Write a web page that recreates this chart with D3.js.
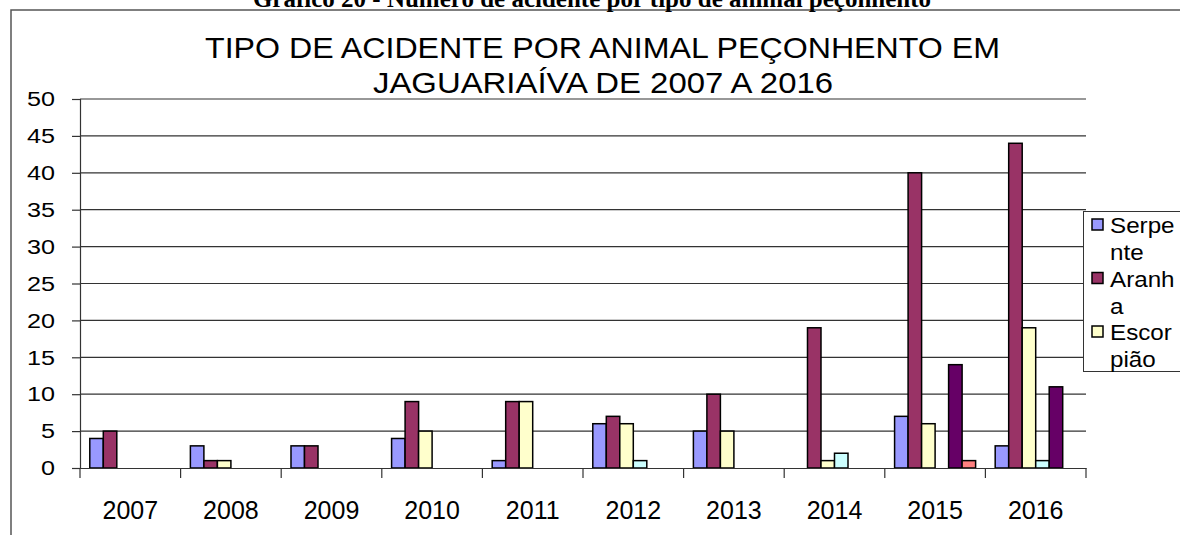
<!DOCTYPE html>
<html><head><meta charset="utf-8">
<script src="https://cdn.jsdelivr.net/npm/d3@7"></script>
<style>body{margin:0;background:#fff}svg{display:block}</style>
</head><body>
<svg id="c" width="1180" height="535"></svg>
<script>
const years = ["2007","2008","2009","2010","2011","2012","2013","2014","2015","2016"];
const seriesNames = ["Serpente","Aranha","Escorpião","Série 4","Série 5","Série 6"];
const serpente  = [4,3,3,4,1,6,5,0,7,3];
const aranha    = [5,1,3,9,9,7,10,19,40,44];
const escorpiao = [0,1,0,5,9,6,5,1,6,19];
const serie4    = [0,0,0,0,0,1,0,2,0,1];
const serie5    = [0,0,0,0,0,0,0,0,14,11];
const serie6    = [0,0,0,0,0,0,0,0,1,0];
const yTicks = [0,5,10,15,20,25,30,35,40,45,50];
const colors = ["#9999FF","#993366","#FFFFCC","#CCFFFF","#660066","#FF8080"];
const legendLines = [["Serpe","nte"],["Aranh","a"],["Escor","pião"]];

const allSeries = [serpente, aranha, escorpiao, serie4, serie5, serie6];
const svg = d3.select("#c");
const pL = 80, pR = 1086, pT = 99, pB = 468;
const tf = "Liberation Sans, Arial, sans-serif";

const x = d3.scaleBand().domain(years).range([pL, pR]).paddingInner(0).paddingOuter(0);
const inner = d3.scaleBand().domain(d3.range(6)).range([0, x.bandwidth()]).paddingInner(0).paddingOuter(0.725);
const y = d3.scaleLinear().domain([0,50]).range([pB, pT]);

// outer chart border
svg.append("path").attr("d","M11,535 V10 H1180").attr("fill","none").attr("stroke","#555").attr("stroke-width",1.5);

// document caption (cut off at the top in the source image)
svg.append("text").attr("x",592).attr("y",7).attr("text-anchor","middle")
  .attr("font-family","Liberation Serif, Times New Roman, serif").attr("font-weight","bold").attr("font-size",25)
  .text("Gráfico 20 - Número de acidente por tipo de animal peçonhento");

// title
svg.append("text").attr("x",205).attr("y",58).attr("font-family",tf).attr("font-size",30)
  .attr("textLength",795).attr("lengthAdjust","spacingAndGlyphs")
  .text("TIPO DE ACIDENTE POR ANIMAL PEÇONHENTO EM");
svg.append("text").attr("x",373).attr("y",93).attr("font-family",tf).attr("font-size",30)
  .attr("textLength",460).attr("lengthAdjust","spacingAndGlyphs")
  .text("JAGUARIAÍVA DE 2007 A 2016");

// gridlines
svg.append("g").selectAll("line").data(yTicks.filter(d=>d>0)).join("line")
  .attr("x1",pL).attr("x2",pR).attr("y1",d=>y(d)).attr("y2",d=>y(d))
  .attr("stroke","#333").attr("stroke-width",1.2);

// y axis
const ya = svg.append("g").attr("transform",`translate(${pL},0)`)
  .call(d3.axisLeft(y).tickValues(yTicks).tickSize(8).tickPadding(10));
ya.select(".domain").attr("stroke","#333").attr("stroke-width",1.2);
ya.selectAll(".tick line").attr("stroke","#333").attr("stroke-width",1.2);
ya.selectAll("text").attr("font-family",tf).attr("font-size",21).attr("fill","#000")
  .attr("transform","scale(1.2,1)").attr("x",-25/1.2);

// bars
const groups = svg.append("g").selectAll("g").data(years).join("g")
  .attr("transform",d=>`translate(${x(d)},0)`);
groups.selectAll("rect").data((d,i)=>allSeries.map((s,k)=>({k, v:s[i]})).filter(e=>e.v>0)).join("rect")
  .attr("x",e=>inner(e.k)).attr("width",inner.bandwidth())
  .attr("y",e=>y(e.v)).attr("height",e=>y(0)-y(e.v))
  .attr("fill",e=>colors[e.k]).attr("stroke","#000").attr("stroke-width",1.5);

// x axis
const xa = svg.append("g").attr("transform",`translate(0,${pB})`)
  .call(d3.axisBottom(x).tickSize(0).tickPadding(33));
xa.select(".domain").attr("stroke","#333").attr("stroke-width",1.2);
xa.selectAll("text").attr("font-family",tf).attr("font-size",25).attr("fill","#000");
svg.append("g").selectAll("line").data(years.map(d=>x(d)).concat([pR])).join("line")
  .attr("x1",d=>d).attr("x2",d=>d).attr("y1",pB).attr("y2",pB+10)
  .attr("stroke","#333").attr("stroke-width",1.2);

// legend
const lg = svg.append("g");
lg.append("rect").attr("x",1083.5).attr("y",211.5).attr("width",110).attr("height",160)
  .attr("fill","#fff").attr("stroke","#333").attr("stroke-width",1);
legendLines.forEach((ln,i)=>{
  const base = 233 + i*53.5;
  lg.append("rect").attr("x",1092).attr("y",base-14).attr("width",11).attr("height",11)
    .attr("fill",colors[i]).attr("stroke","#000").attr("stroke-width",1.5);
  lg.append("text").attr("transform",`translate(1110,${base}) scale(1.1,1)`)
    .attr("font-family",tf).attr("font-size",22).text(ln[0]);
  lg.append("text").attr("transform",`translate(1110,${base+27}) scale(1.1,1)`)
    .attr("font-family",tf).attr("font-size",22).text(ln[1]);
});
</script>
</body></html>
